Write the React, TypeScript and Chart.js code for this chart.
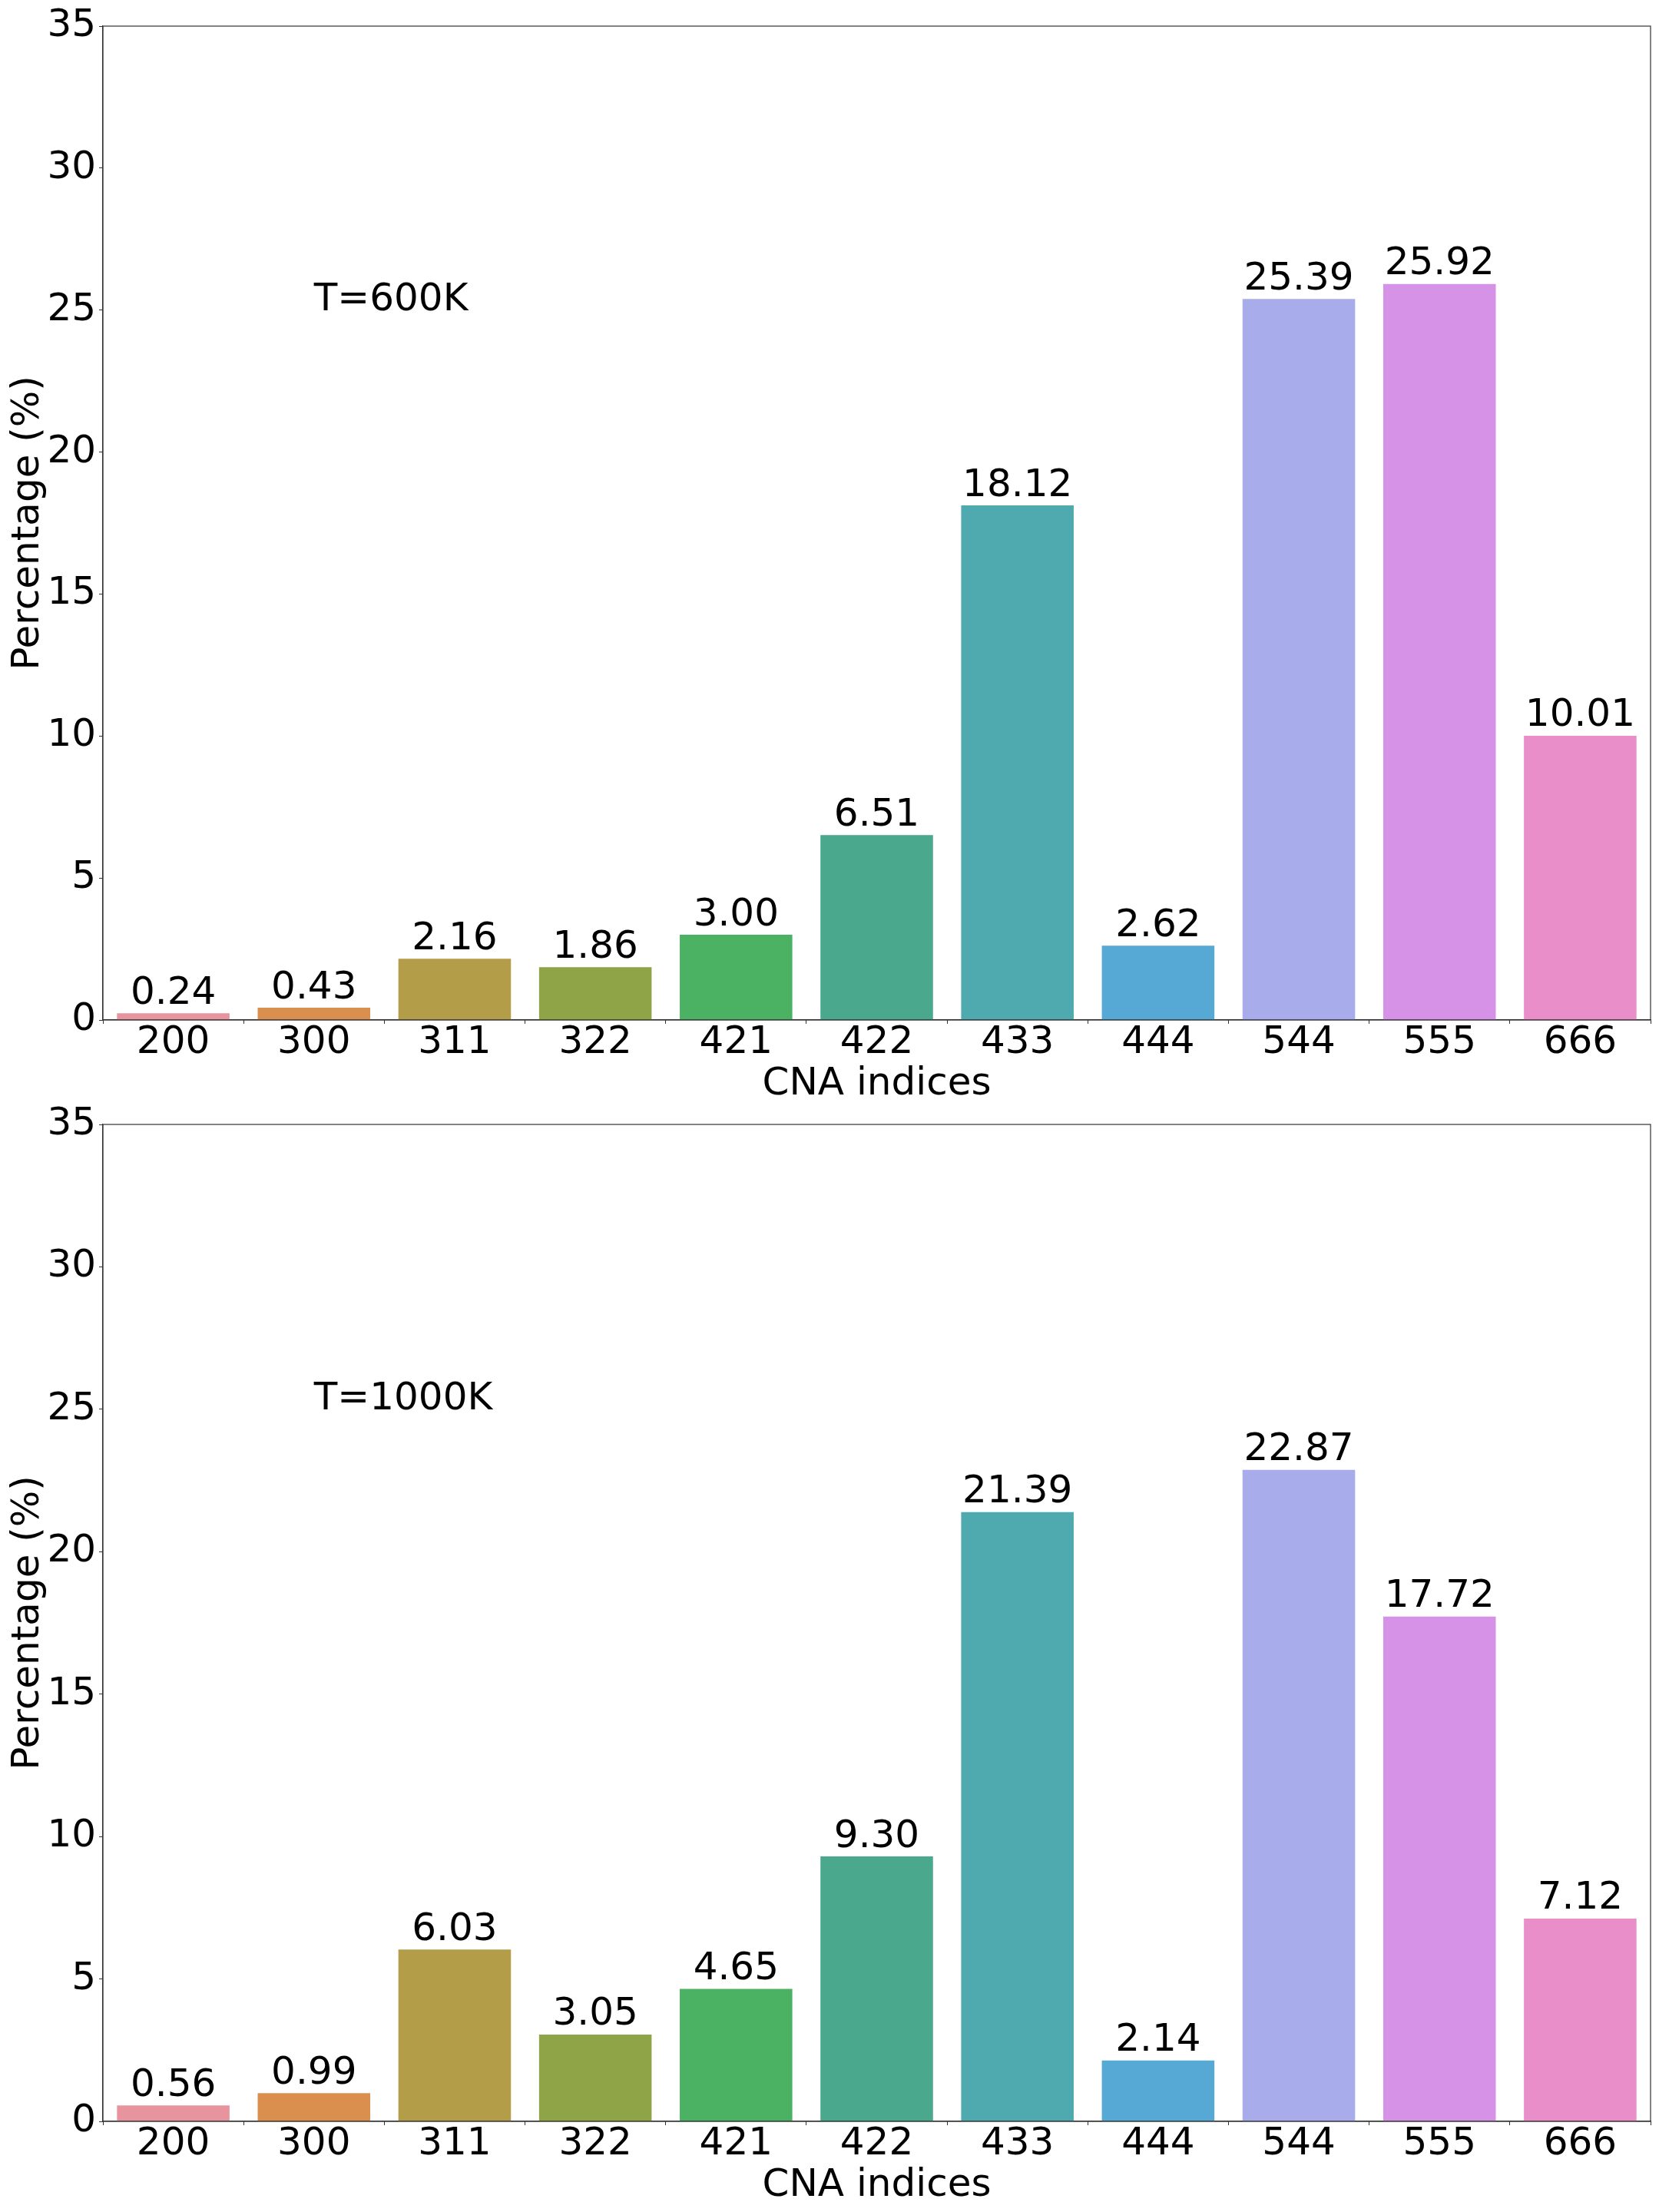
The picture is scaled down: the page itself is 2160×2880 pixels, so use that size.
import React, { useEffect, useRef } from "react";
import { Chart, registerables } from "chart.js";

Chart.register(...registerables);

const categories = ["200", "300", "311", "322", "421", "422", "433", "444", "544", "555", "666"];
const valuesT600 = [0.24, 0.43, 2.16, 1.86, 3.0, 6.51, 18.12, 2.62, 25.39, 25.92, 10.01];
const valuesT1000 = [0.56, 0.99, 6.03, 3.05, 4.65, 9.3, 21.39, 2.14, 22.87, 17.72, 7.12];
const barColors = [
  "#e8949f", "#da8f4e", "#b39d48", "#8fa446", "#4bb163", "#4aa98d",
  "#4eaaaf", "#55a9d4", "#a8acea", "#d592e6", "#e98ec8",
];
const yTicks = [0, 5, 10, 15, 20, 25, 30, 35];
const panelLabels = ["T=600K", "T=1000K"];
const panelLabelAt = { x: 1, y: 25 };

const FONT = "DejaVu Sans";
const W = 2160;
const H1 = 1450; // first canvas height (overlaps second, both transparent)
const TOP2 = 1420; // second canvas top
const H2 = 1460;

function makeChart(canvas: HTMLCanvasElement, values: number[], label: string, padTop: number, axisH: number) {
  const overlay = {
    id: "overlay",
    afterDraw(chart: any) {
      const ctx = chart.ctx;
      const ca = chart.chartArea;
      const xs = chart.scales.x;
      const ys = chart.scales.y;
      ctx.save();
      // frame
      ctx.strokeStyle = "#333333";
      ctx.lineWidth = 1.2;
      ctx.strokeRect(ca.left, ca.top, ca.right - ca.left, ca.bottom - ca.top);
      // bar value labels
      ctx.fillStyle = "#000";
      ctx.font = `50px "${FONT}"`;
      ctx.textAlign = "center";
      ctx.textBaseline = "alphabetic";
      const meta = chart.getDatasetMeta(0);
      meta.data.forEach((bar: any, i: number) => {
        ctx.fillText(values[i].toFixed(2), bar.x, bar.y - 12.5);
      });
      // panel annotation
      ctx.textAlign = "left";
      ctx.fillText(label, xs.getPixelForValue(panelLabelAt.x), ys.getPixelForValue(panelLabelAt.y));
      // x title
      ctx.textAlign = "center";
      ctx.fillText("CNA indices", (ca.left + ca.right) / 2, ca.bottom + 97);
      // y title
      ctx.translate(50, (ca.top + ca.bottom) / 2);
      ctx.rotate(-Math.PI / 2);
      ctx.textAlign = "center";
      ctx.fillText("Percentage (%)", 0, 0);
      ctx.restore();
    },
  };

  return new Chart(canvas, {
    type: "bar",
    data: {
      labels: categories,
      datasets: [
        {
          data: values,
          backgroundColor: barColors,
          borderWidth: 0,
          categoryPercentage: 1,
          barPercentage: 0.8,
        },
      ],
    },
    options: {
      responsive: false,
      animation: false,
      devicePixelRatio: 1,
      layout: { padding: { top: padTop, right: 11, left: 0, bottom: 0 } },
      plugins: { legend: { display: false }, tooltip: { enabled: false } },
      scales: {
        x: {
          offset: true,
          grid: { display: true, drawOnChartArea: false, drawTicks: true, tickLength: 5, tickColor: "#333333" },
          border: { display: true, color: "#333333", width: 1.2 },
          ticks: { color: "#000", font: { family: FONT, size: 50, lineHeight: 1 }, padding: 0, maxRotation: 0, autoSkip: false },
          afterFit(scale: any) {
            scale.height = axisH;
          },
        },
        y: {
          min: 0,
          max: 35,
          afterBuildTicks(scale: any) {
            scale.ticks = yTicks.map((v) => ({ value: v }));
          },
          grid: { display: true, drawOnChartArea: false, drawTicks: true, tickLength: 5, tickColor: "#333333" },
          border: { display: true, color: "#333333", width: 1.2 },
          ticks: { color: "#000", font: { family: FONT, size: 50 }, padding: 4 },
          afterFit(scale: any) {
            scale.width = 134;
          },
        },
      },
    },
    plugins: [overlay],
  });
}

export default function App() {
  const ref1 = useRef<HTMLCanvasElement>(null);
  const ref2 = useRef<HTMLCanvasElement>(null);

  useEffect(() => {
    const c1 = makeChart(ref1.current!, valuesT600, panelLabels[0], 30, H1 - 1328);
    const c2 = makeChart(ref2.current!, valuesT1000, panelLabels[1], 1464 - TOP2, TOP2 + H2 - 2762);
    return () => {
      c1.destroy();
      c2.destroy();
    };
  }, []);

  return (
    <div style={{ position: "absolute", left: 0, top: 0, width: W, height: TOP2 + H2, background: "#fff" }}>
      <canvas ref={ref1} width={W} height={H1} style={{ position: "absolute", left: 0, top: 0, width: W, height: H1 }} />
      <canvas ref={ref2} width={W} height={H2} style={{ position: "absolute", left: 0, top: TOP2, width: W, height: H2 }} />
    </div>
  );
}
